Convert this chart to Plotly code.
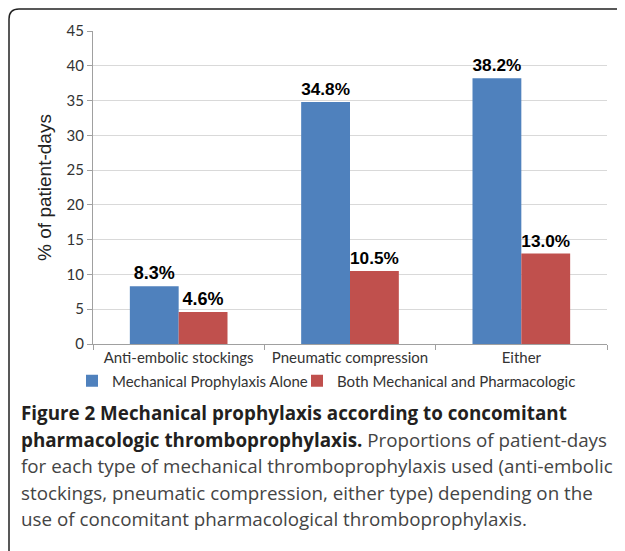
import plotly.graph_objects as go

categories = ["Anti-embolic stockings", "Pneumatic compression", "Either"]
mech_alone = [8.3, 34.8, 38.2]
both = [4.6, 10.5, 13.0]
series_names = ["Mechanical Prophylaxis Alone", "Both Mechanical and Pharmacologic"]
y_ticks = [0, 5, 10, 15, 20, 25, 30, 35, 40, 45]

W, H = 625, 551
OFF = 8  # page body margin
L, R, T, B = 85, 26, 23, 215
PW, PH = W - L - R, H - T - B

def px_x(x):
    return (x - OFF - L) / PW

def px_y(y):
    return (H - B - (y - OFF)) / PH

fig = go.Figure()
for name, vals, color, lw in [(series_names[0], mech_alone, "#4F81BD", 180),
                              (series_names[1], both, "#C0504D", None)]:
    fig.add_trace(go.Bar(
        x=categories, y=vals, name=name, marker=dict(color=color, line=dict(width=0)),
        texttemplate="%{y:.1f}%", textposition="outside", cliponaxis=False,
        textfont=dict(family="Liberation Sans", size=18, color="#000000", weight="bold"),
        legendwidth=lw,
    ))

fig.update_layout(
    width=W, height=H, barmode="group", bargap=0.43, bargroupgap=0,
    margin=dict(l=L, r=R, t=T, b=B, autoexpand=False),
    paper_bgcolor="white", plot_bgcolor="white",
    font=dict(family="Lato", color="#333333"),
    showlegend=True,
    legend=dict(orientation="h", xref="paper", x=px_x(72), xanchor="left",
                y=px_y(381), yanchor="middle", bgcolor="rgba(0,0,0,0)",
                font=dict(family="Lato", size=15, color="#333333"), itemwidth=30,
                traceorder="normal"),
    xaxis=dict(showline=True, linecolor="#A0A0A0", linewidth=1, ticks="outside",
               tickson="boundaries", ticklen=5, tickcolor="#A0A0A0",
               tickfont=dict(family="Lato", size=15, color="#333333")),
    yaxis=dict(range=[0, 45], tickvals=y_ticks, showline=True, linecolor="#A0A0A0", linewidth=1,
               ticks="outside", ticklen=5, tickcolor="#A0A0A0", gridcolor="#D9D9D9",
               zeroline=False,
               tickfont=dict(family="Lato", size=15, color="#333333"),
               title=dict(text="% of patient-days", font=dict(family="Liberation Sans", size=19, color="#222222"),
                          standoff=9)),
)

# Border with rounded corners
xl = px_x(9)
yt = px_y(9)
yb = px_y(570)
rx, ry = 10 / PW, 10 / PH
path = (f"M {xl},{yb + ry} L {xl},{yt - ry} Q {xl},{yt} {xl + rx},{yt} L 1.2,{yt} "
        f"M {xl},{yb + ry} Q {xl},{yb} {xl + rx},{yb} L 1.2,{yb}")
fig.add_shape(type="path", path=path, xref="paper", yref="paper",
              line=dict(color="#222222", width=1.5))

caption_lines = [
    ("<b>Figure 2 Mechanical prophylaxis according to concomitant</b>", 413),
    ("<b>pharmacologic thromboprophylaxis.</b> <span style='color:#444444'>Proportions of patient-days</span>", 440),
    ("<span style='color:#444444'>for each type of mechanical thromboprophylaxis used (anti-embolic</span>", 466),
    ("<span style='color:#444444'>stockings, pneumatic compression, either type) depending on the</span>", 493),
    ("<span style='color:#444444'>use of concomitant pharmacological thromboprophylaxis.</span>", 519),
]
for text, yy in caption_lines:
    fig.add_annotation(text=text, xref="paper", yref="paper", x=px_x(19), y=px_y(yy),
                       xanchor="left", yanchor="middle", showarrow=False, align="left",
                       font=dict(family="Open Sans", size=18.8, color="#231F20"))

fig.write_html("out.html")
